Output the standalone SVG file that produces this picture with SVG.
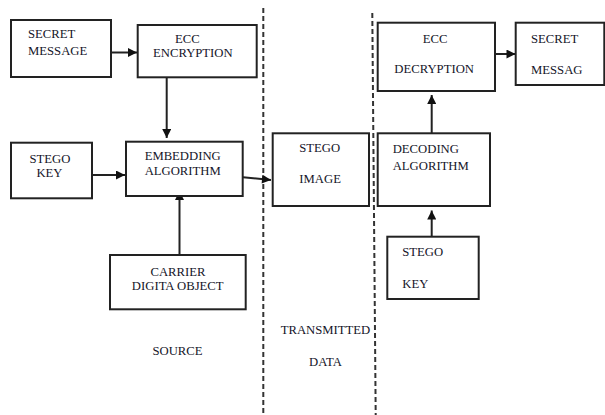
<svg xmlns="http://www.w3.org/2000/svg" width="605" height="415" viewBox="0 0 605 415">
<style>
.box{fill:#fff;stroke:#222;stroke-width:2}
.t{font-family:'Liberation Serif','Times New Roman','DejaVu Serif',serif;font-size:12.7px;fill:#141428}
.c{text-anchor:middle}
.ln{stroke:#222;stroke-width:2;fill:none}
.dash{stroke:#333;stroke-width:2;stroke-dasharray:5 3;fill:none}
</style>
<defs>
<marker id="ah" viewBox="0 0 10 10" refX="10" refY="5" markerWidth="10" markerHeight="9" markerUnits="userSpaceOnUse" orient="auto">
<path d="M0,0 L10,5 L0,10 z" fill="#111"/>
</marker>
</defs>
<rect width="605" height="415" fill="#fff"/>
<g id="dividers">
<line class="dash" x1="263.3" y1="8" x2="263.3" y2="415"/>
<line class="dash" x1="372.3" y1="13" x2="375.7" y2="415"/>
</g>
<g id="connectors">
<line class="ln" x1="111" y1="52.5" x2="137" y2="52.5" marker-end="url(#ah)"/>
<line class="ln" x1="166.7" y1="77" x2="166.7" y2="138" marker-end="url(#ah)"/>
<line class="ln" x1="92" y1="175" x2="125" y2="175" marker-end="url(#ah)"/>
<line class="ln" x1="179.5" y1="255" x2="179.5" y2="191" marker-end="url(#ah)"/>
<line class="ln" x1="243" y1="177.3" x2="271" y2="180" marker-end="url(#ah)"/>
<line class="ln" x1="431.7" y1="133.3" x2="431.7" y2="95" marker-end="url(#ah)"/>
<line class="ln" x1="495" y1="54" x2="515.5" y2="54" marker-end="url(#ah)"/>
<line class="ln" x1="431.7" y1="236.7" x2="431.7" y2="210.5" marker-end="url(#ah)"/>
</g>
<g id="secret-message">
<rect class="box" x="11" y="20" width="100" height="57"/>
<text class="t" x="28" y="38">SECRET</text>
<text class="t" x="28" y="55">MESSAGE</text>
</g>
<g id="ecc-encryption">
<rect class="box" x="137.7" y="25" width="119" height="52.3"/>
<text class="t" x="175" y="43">ECC</text>
<text class="t" x="153" y="57">ENCRYPTION</text>
</g>
<g id="stego-key-1">
<rect class="box" x="11" y="142.7" width="81" height="55.6"/>
<text class="t c" x="50" y="162.7">STEGO</text>
<text class="t c" x="49.5" y="176.7">KEY</text>
</g>
<g id="embedding-algorithm">
<rect class="box" x="126" y="141.7" width="116.7" height="54.3"/>
<text class="t c" x="182.7" y="160">EMBEDDING</text>
<text class="t c" x="182.7" y="175">ALGORITHM</text>
</g>
<g id="carrier">
<rect class="box" x="110" y="255" width="135.7" height="54.3"/>
<text class="t c" x="178" y="276">CARRIER</text>
<text class="t c" x="177.7" y="290">DIGITA OBJECT</text>
</g>
<g id="source">
<text class="t c" x="177.5" y="355">SOURCE</text>
</g>
<g id="stego-image">
<rect class="box" x="272.7" y="133.3" width="96.3" height="72.7"/>
<text class="t" x="299.3" y="151.7">STEGO</text>
<text class="t" x="299.3" y="183.3">IMAGE</text>
</g>
<g id="transmitted-data">
<text class="t" x="280.7" y="334">TRANSMITTED</text>
<text class="t" x="309" y="366">DATA</text>
</g>
<g id="ecc-decryption">
<rect class="box" x="377.7" y="22.7" width="117.3" height="68.3"/>
<text class="t" x="422.7" y="42.7">ECC</text>
<text class="t" x="394.3" y="72.7">DECRYPTION</text>
</g>
<g id="secret-messag">
<rect class="box" x="515.7" y="22.7" width="88.6" height="62.3"/>
<text class="t" x="531" y="42.7">SECRET</text>
<text class="t" x="531" y="74">MESSAG</text>
</g>
<g id="decoding-algorithm">
<rect class="box" x="377.7" y="133.3" width="112.3" height="72.7"/>
<text class="t" x="392.7" y="152.7">DECODING</text>
<text class="t" x="392.7" y="170">ALGORITHM</text>
</g>
<g id="stego-key-2">
<rect class="box" x="387.3" y="236.7" width="91.4" height="62.3"/>
<text class="t" x="402.3" y="255.7">STEGO</text>
<text class="t" x="402.3" y="288">KEY</text>
</g>
</svg>
